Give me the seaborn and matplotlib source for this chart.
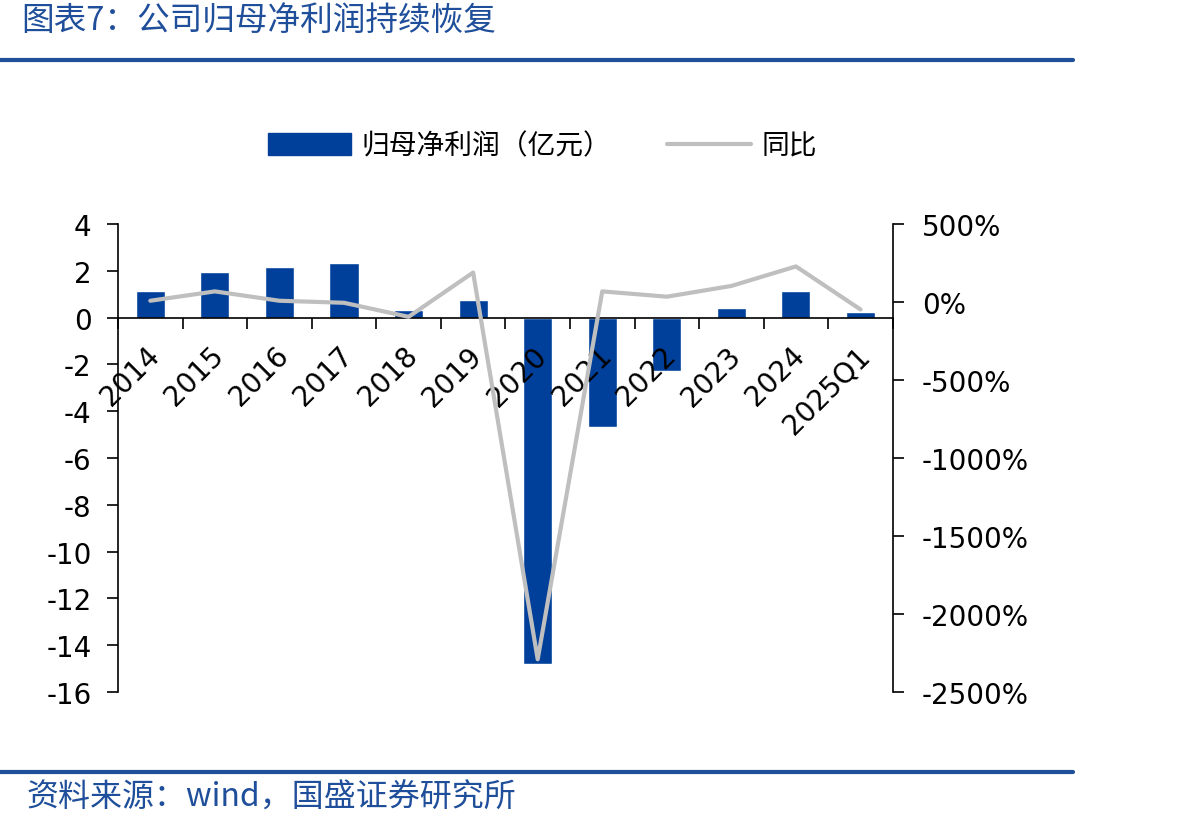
import numpy as np
import pandas as pd
import matplotlib
matplotlib.use("Agg")
import matplotlib.pyplot as plt
import seaborn as sns
from matplotlib.lines import Line2D
from matplotlib.patches import Patch

categories = ["2014", "2015", "2016", "2017", "2018", "2019",
              "2020", "2021", "2022", "2023", "2024", "2025Q1"]
profit = [1.13, 1.93, 2.17, 2.35, 0.34, 0.75, -14.8, -4.69, -2.30, 0.39, 1.13, 0.22]
yoy = [8, 68, 8, -5, -95, 189, -2290, 68, 34, 103, 228, -48]
left_ticks = [4, 2, 0, -2, -4, -6, -8, -10, -12, -14, -16]
right_ticks = [500, 0, -500, -1000, -1500, -2000, -2500]

df = pd.DataFrame({"year": categories, "profit": profit, "yoy": yoy})

sns.set_theme(style="white")
plt.rcParams['font.family'] = ['DejaVu Sans', 'Noto Sans CJK SC']
plt.rcParams['text.color'] = 'black'
plt.rcParams['xtick.color'] = 'black'
plt.rcParams['ytick.color'] = 'black'
bar_color = "#00409A"
line_color = "#BFBFBF"
title_blue = "#1F4E9A"

fig = plt.figure(figsize=(11.92, 8.29), dpi=100)
ax = fig.add_axes([0.099, 0.164, 0.65, 0.5646])

sns.barplot(data=df, x="year", y="profit", color=bar_color, width=0.45,
            saturation=1, ax=ax, zorder=1)
ax.set_xlim(-0.5, len(categories) - 0.5)
ax.set_ylim(-16, 4)
ax.set_yticks(left_ticks)
ax.set_yticklabels([str(t) for t in left_ticks], fontsize=20)
ax.set_xlabel("")
ax.set_ylabel("")

# x axis sits on zero, ticks between categories
for s in ["top", "right"]:
    ax.spines[s].set_visible(False)
ax.spines["bottom"].set_position(("data", 0))
ax.spines["bottom"].set_color("black")
ax.spines["left"].set_color("black")
ax.spines["bottom"].set_linewidth(1.2)
ax.spines["left"].set_linewidth(1.2)
ax.set_xticks(np.arange(len(categories) + 1) - 0.5)
ax.set_xticklabels([])
ax.tick_params(axis="x", bottom=True, direction="out", length=8, width=1.2, color="black")
ax.tick_params(axis="y", left=True, direction="out", length=8, width=1.2, color="black",
               labelcolor="black", pad=11)
for i, c in enumerate(categories):
    ax.text(i - 0.08, -1.0, c, rotation=45, ha="right", va="top",
            rotation_mode="anchor", fontsize=20, color="black", zorder=5)

ax2 = ax.twinx()
sns.lineplot(x=np.arange(len(categories)), y=df["yoy"], color=line_color,
             linewidth=3, ax=ax2)
ax2.set_ylim(-2500, 500)
ax2.set_yticks(right_ticks)
ax2.set_yticklabels([f"{t}%" for t in right_ticks], fontsize=20)
ax2.set_ylabel("")
for s in ["top", "left", "bottom"]:
    ax2.spines[s].set_visible(False)
ax2.spines["right"].set_color("black")
ax2.spines["right"].set_linewidth(1.2)
ax2.tick_params(axis="y", right=True, direction="out", length=8, width=1.2, color="black",
                labelcolor="black", pad=13)

handles = [Patch(facecolor=bar_color, edgecolor=bar_color),
           Line2D([0], [0], color=line_color, linewidth=3)]
leg = fig.legend(handles, ["归母净利润（亿元）", "同比"], loc="center",
                 bbox_to_anchor=(0.455, 0.823), ncol=2, frameon=False,
                 prop={"family": ["Noto Sans CJK SC"], "size": 20},
                 handlelength=3.0, handleheight=0.8, columnspacing=2.0, handletextpad=0.4)
for t in leg.get_texts():
    t.set_color("black")

# header and footer
fig.text(0.018, 0.975, "图表7：公司归母净利润持续恢复", ha="left", va="center",
         fontsize=23.5, color=title_blue, style="italic",
         family=["Noto Sans CJK SC", "DejaVu Sans"])
fig.add_artist(Line2D([0, 0.9], [0.927, 0.927], color=title_blue, linewidth=3))
fig.add_artist(Line2D([0, 0.9], [0.067, 0.067], color=title_blue, linewidth=3))
fig.text(0.022, 0.038, "资料来源：wind，国盛证券研究所", ha="left", va="center",
         fontsize=23, color=title_blue, style="italic",
         family=["Noto Sans CJK SC", "DejaVu Sans"])

fig.savefig("out.png", dpi=100)
